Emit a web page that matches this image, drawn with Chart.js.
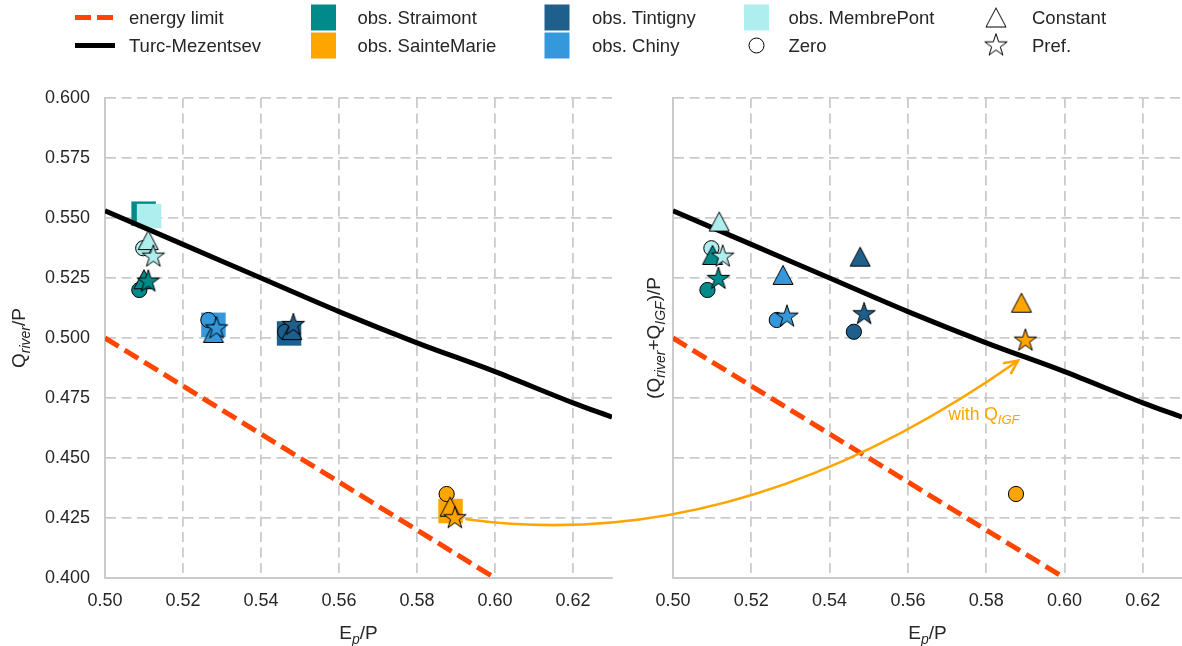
<!DOCTYPE html>
<html>
<head>
<meta charset="utf-8">
<script src="https://cdn.jsdelivr.net/npm/chart.js@4"></script>
<style>
body { margin: 0; background: #fff; }
#wrap { position: relative; width: 1182px; height: 646px; overflow: hidden; font-family: "Liberation Sans", Arial, sans-serif; color: #262626; }
#wrap canvas { position: absolute; top: 0; }
#cL { left: 0; }
#cR { left: 620px; }
#over { left: 0; pointer-events: none; }
.lg { position: absolute; font-size: 18.5px; line-height: 1; white-space: nowrap; transform: translateY(-50%); }
</style>
</head>
<body>
<div id="wrap">
  <canvas id="cL" width="640" height="646"></canvas>
  <canvas id="cR" width="580" height="646"></canvas>
  <canvas id="over" width="1182" height="646"></canvas>
</div>
<script>
// stations, same order everywhere
var stations = ['Straimont', 'SainteMarie', 'Tintigny', 'Chiny', 'MembrePont'];
var stationColors = ['#008b8b', '#ffa500', '#1f5f8b', '#3498db', '#afeeee'];

var xTicks = [0.50, 0.52, 0.54, 0.56, 0.58, 0.60, 0.62];
var yTicks = [0.400, 0.425, 0.450, 0.475, 0.500, 0.525, 0.550, 0.575, 0.600];

// reference curves
var energyEp = [0.50, 0.60];
var energyQ = [0.50, 0.40];
var turcEp = [0.50, 0.52, 0.54, 0.56, 0.58, 0.60, 0.62, 0.63];
var turcQ = [0.553, 0.539, 0.525, 0.511, 0.498, 0.486, 0.473, 0.467];

// observed (left panel only)
var obsEp = [0.5099, 0.5886, 0.5472, 0.5278, 0.5113];
var obsQ = [0.5518, 0.4279, 0.5019, 0.5055, 0.5508];

// model "Zero" (same in both panels)
var zeroEp = [0.5088, 0.5876, 0.5462, 0.5265, 0.5098];
var zeroQ = [0.5200, 0.4350, 0.5026, 0.5075, 0.5374];

// left panel: Q_river/P
var constEpL = [0.5100, 0.5885, 0.5479, 0.5278, 0.5111];
var constQL = [0.5245, 0.4297, 0.5033, 0.5021, 0.5408];
var prefEpL = [0.5111, 0.5897, 0.5483, 0.5286, 0.5124];
var prefQL = [0.5235, 0.4249, 0.5054, 0.5040, 0.5339];

// right panel: (Q_river+Q_IGF)/P
var constEpR = [0.5101, 0.5890, 0.5478, 0.5281, 0.5118];
var constQR = [0.5346, 0.5147, 0.5339, 0.5263, 0.5485];
var prefEpR = [0.5116, 0.5900, 0.5488, 0.5291, 0.5127];
var prefQR = [0.5246, 0.4989, 0.5099, 0.5089, 0.5339];

// annotation arrow (left data -> right data) and its label (right data)
var arrowFrom = [0.5927, 0.4245];
var arrowTo = [0.5881, 0.4905];
var noteAt = [0.5703, 0.4658];

var FONT = '"Liberation Sans", Arial, sans-serif';
var INK = '#262626';
Chart.defaults.font.family = FONT;
Chart.defaults.color = INK;

function pairs(xs, ys) {
  return xs.map(function (x, i) { return {x: x, y: ys[i]}; });
}

function starPath(ctx, cx, cy, R) {
  var r = R * 0.381966;
  ctx.beginPath();
  for (var k = 0; k < 10; k++) {
    var a = -Math.PI / 2 + k * Math.PI / 5;
    var rr = k % 2 ? r : R;
    if (k === 0) ctx.moveTo(cx + rr * Math.cos(a), cy + rr * Math.sin(a));
    else ctx.lineTo(cx + rr * Math.cos(a), cy + rr * Math.sin(a));
  }
  ctx.closePath();
}
function triPath(ctx, cx, cy, hw, hh) {
  ctx.beginPath();
  ctx.moveTo(cx, cy - hh);
  ctx.lineTo(cx - hw, cy + hh);
  ctx.lineTo(cx + hw, cy + hh);
  ctx.closePath();
}
function markerImg(kind, color) {
  var c = document.createElement('canvas');
  c.width = 28; c.height = 28;
  var g = c.getContext('2d');
  if (kind === 'star') starPath(g, 14, 14, 11.8);
  else triPath(g, 14, 14, 10, 9.5);
  g.fillStyle = color; g.fill();
  g.lineWidth = 1; g.strokeStyle = '#000'; g.lineJoin = 'miter'; g.stroke();
  return c;
}

function richText(ctx, parts, x, y, vertical, align, size) {
  // parts: [text, isSub]
  ctx.save();
  ctx.translate(x, y);
  if (vertical) ctx.rotate(-Math.PI / 2);
  var subSize = Math.round(size * 0.74);
  var total = 0, widths = [];
  parts.forEach(function (p) {
    ctx.font = p[1] ? 'italic ' + subSize + 'px ' + FONT : size + 'px ' + FONT;
    var w = ctx.measureText(p[0]).width;
    widths.push(w); total += w;
  });
  var cx = align === 'left' ? 0 : -total / 2;
  ctx.textBaseline = 'alphabetic';
  ctx.textAlign = 'left';
  parts.forEach(function (p, i) {
    ctx.font = p[1] ? 'italic ' + subSize + 'px ' + FONT : size + 'px ' + FONT;
    ctx.fillText(p[0], cx, p[1] ? size * 0.25 : 0);
    cx += widths[i];
  });
  ctx.restore();
}

function titlesPlugin(yParts, yTitleX) {
  return {
    id: 'titles',
    afterDraw: function (chart) {
      var ctx = chart.ctx, a = chart.chartArea;
      ctx.fillStyle = INK;
      richText(ctx, [['E', 0], ['p', 1], ['/P', 0]], (a.left + a.right) / 2, 639, false, 'center', 19);
      richText(ctx, yParts, yTitleX, (a.top + a.bottom) / 2, true, 'center', 19);
    }
  };
}

function scalesFor(yLabels, yWidth) {
  return {
    x: {
      type: 'linear', min: 0.50, max: 0.63,
      afterBuildTicks: function (s) { s.ticks = xTicks.map(function (v) { return {value: v}; }); },
      afterFit: function (s) { s.height = 68; s.paddingLeft = 0; s.paddingRight = 0; },
      ticks: { font: {size: 18}, color: INK, padding: 12, maxRotation: 0,
        callback: function (v) { return v.toFixed(2); } },
      grid: { color: '#cbcbcb', lineWidth: 1.8, drawTicks: false },
      border: { display: true, color: '#cbcbcb', width: 2, dash: [10, 5.5] }
    },
    y: {
      type: 'linear', min: 0.40, max: 0.60,
      afterBuildTicks: function (s) { s.ticks = yTicks.map(function (v) { return {value: v}; }); },
      afterFit: function (s) { s.width = yWidth; s.paddingTop = 0; s.paddingBottom = 0; },
      ticks: { display: yLabels, font: {size: 18}, color: INK, padding: 15,
        callback: function (v) { return v.toFixed(3); } },
      grid: { color: '#cbcbcb', lineWidth: 1.8, drawTicks: false },
      border: { display: true, color: '#cbcbcb', width: 2, dash: [10, 5.5] }
    }
  };
}

function panelDatasets(cEp, cQ, pEp, pQ, withObs) {
  var ds = [
    { data: pairs(pEp, pQ), pointStyle: stationColors.map(function (c) { return markerImg('star', c); }),
      pointRadius: 10, order: 1 },
    { data: pairs(cEp, cQ), pointStyle: stationColors.map(function (c) { return markerImg('tri', c); }),
      pointRadius: 10, order: 2 },
    { data: pairs(zeroEp, zeroQ), pointStyle: 'circle', pointRadius: 7.6,
      backgroundColor: stationColors, borderColor: '#000', borderWidth: 1, order: 3 },
    { data: pairs(turcEp, turcQ), showLine: true, borderColor: '#000', borderWidth: 5,
      cubicInterpolationMode: 'monotone', pointRadius: 0, order: 4 },
    { data: pairs(energyEp, energyQ), showLine: true, borderColor: '#ff4500', borderWidth: 5,
      borderDash: [16, 7], borderCapStyle: 'butt', pointRadius: 0, order: 4 }
  ];
  if (withObs) {
    ds.push({ data: pairs(obsEp, obsQ), pointStyle: 'rect', pointRadius: 17.3,
      backgroundColor: stationColors, borderWidth: 0, order: 5 });
  }
  return ds;
}

var common = {
  responsive: false,
  animation: false,
  events: [],
  plugins: { legend: { display: false }, tooltip: { enabled: false } }
};

var chartL = new Chart(document.getElementById('cL'), {
  type: 'scatter',
  data: { datasets: panelDatasets(constEpL, constQL, prefEpL, prefQL, true) },
  options: Object.assign({}, common, {
    layout: { padding: { top: 98, right: 28, left: 0, bottom: 0 } },
    scales: scalesFor(true, 105)
  }),
  plugins: [titlesPlugin([['Q', 0], ['river', 1], ['/P', 0]], 25)]
});

// right canvas is wider than the visible area: the margin it keeps for
// overflowing points falls outside the figure
var chartR = new Chart(document.getElementById('cR'), {
  type: 'scatter',
  data: { datasets: panelDatasets(constEpR, constQR, prefEpR, prefQR, false) },
  options: Object.assign({}, common, {
    layout: { padding: { top: 98, right: 18, left: 0, bottom: 0 } },
    scales: scalesFor(false, 53)
  }),
  plugins: [titlesPlugin([['(Q', 0], ['river', 1], ['+Q', 0], ['IGF', 1], [')/P', 0]], 40)]
});

// overlay: annotation arrow, its label and the figure legend
var over = document.getElementById('over');
var octx = over.getContext('2d');
var leftOffset = 620;

function toPage(chart, dx, pt) {
  return [dx + chart.scales.x.getPixelForValue(pt[0]), chart.scales.y.getPixelForValue(pt[1])];
}

(function drawArrow() {
  var p0 = toPage(chartL, 0, arrowFrom);
  var p2 = toPage(chartR, leftOffset, arrowTo);
  var dx = p2[0] - p0[0], dy = p2[1] - p0[1];
  var c = [p0[0] + 0.44 * dx - 0.194 * dy, p0[1] + 0.44 * dy + 0.194 * dx];
  octx.save();
  octx.strokeStyle = '#ffa500';
  octx.lineWidth = 2.6;
  octx.lineCap = 'round';
  octx.beginPath();
  octx.moveTo(p0[0], p0[1]);
  octx.quadraticCurveTo(c[0], c[1], p2[0], p2[1]);
  octx.stroke();
  var ang = Math.atan2(p2[1] - c[1], p2[0] - c[0]);
  var hl = 14, ha = 0.45;
  octx.beginPath();
  octx.moveTo(p2[0] - hl * Math.cos(ang - ha), p2[1] - hl * Math.sin(ang - ha));
  octx.lineTo(p2[0], p2[1]);
  octx.lineTo(p2[0] - hl * Math.cos(ang + ha), p2[1] - hl * Math.sin(ang + ha));
  octx.stroke();
  var t = toPage(chartR, leftOffset, noteAt);
  octx.fillStyle = '#ffa500';
  richText(octx, [['with Q', 0], ['IGF', 1]], t[0], t[1], false, 'left', 17.5);
  octx.restore();
})();

// legend
var legendItems = [
  ['line-dash', 'energy limit'], ['line', 'Turc-Mezentsev'],
  ['square', 'obs. ' + stations[0]], ['square', 'obs. ' + stations[1]],
  ['square', 'obs. ' + stations[2]], ['square', 'obs. ' + stations[3]],
  ['square', 'obs. ' + stations[4]], ['circle', 'Zero'],
  ['tri', 'Constant'], ['star', 'Pref.']
];
var legendCols = [[95, 129], [323.5, 357.5], [557, 592], [756.5, 788.5], [996, 1032]];
var legendRows = [17.5, 45.5];
var wrap = document.getElementById('wrap');
var sq = 0;
legendItems.forEach(function (it, i) {
  var col = legendCols[Math.floor(i / 2)], y = legendRows[i % 2], x = col[0];
  octx.save();
  if (it[0] === 'line-dash' || it[0] === 'line') {
    octx.lineWidth = 5;
    octx.strokeStyle = it[0] === 'line' ? '#000' : '#ff4500';
    if (it[0] === 'line-dash') octx.setLineDash([16, 6]);
    octx.beginPath(); octx.moveTo(x - 20, y); octx.lineTo(x + 20, y); octx.stroke();
  } else if (it[0] === 'square') {
    octx.fillStyle = stationColors[sq++];
    octx.fillRect(x - 12.5, y - 13, 25, 26);
  } else if (it[0] === 'circle') {
    octx.beginPath(); octx.arc(x, y, 7.5, 0, Math.PI * 2);
    octx.fillStyle = '#fff'; octx.fill(); octx.lineWidth = 1; octx.strokeStyle = '#000'; octx.stroke();
  } else {
    octx.drawImage(markerImg(it[0], '#fff'), x - 14, y - 14);
  }
  octx.restore();
  var d = document.createElement('div');
  d.className = 'lg';
  d.style.left = col[1] + 'px';
  d.style.top = y + 'px';
  d.textContent = it[1];
  wrap.appendChild(d);
});
</script>
</body>
</html>
